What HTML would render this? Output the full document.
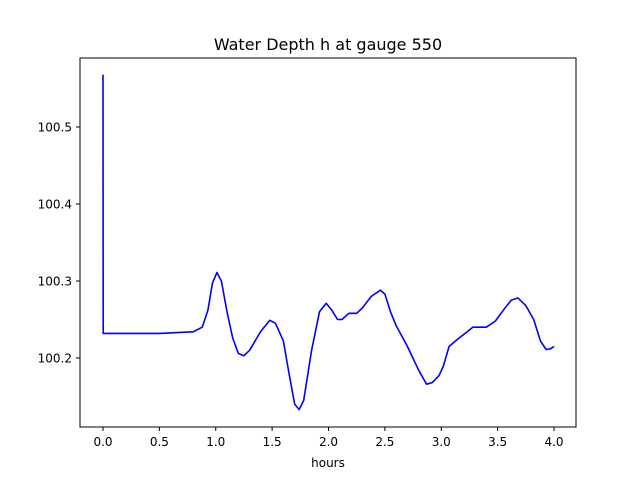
<!DOCTYPE html>
<html><head><meta charset="utf-8"><style>
body{margin:0;background:#fff;}
svg text{font-family:"DejaVu Sans","Liberation Sans",sans-serif;}
</style></head><body>
<svg id="chart" width="640" height="480" viewBox="0 0 640 480" xmlns="http://www.w3.org/2000/svg">
<rect width="640" height="480" fill="#fff"/>
<text x="328" y="50" font-size="16" text-anchor="middle">Water Depth h at gauge 550</text>
<g id="plot"></g>
<rect x="80" y="58" width="496" height="369" fill="none" stroke="#000" stroke-width="1"/>
<text x="328" y="467" font-size="12" text-anchor="middle">hours</text>
</svg>
<script>
const hours=[0,0.002,0.5,0.8,0.88,0.93,0.97,1.01,1.05,1.1,1.15,1.2,1.25,1.3,1.4,1.48,1.53,1.6,1.65,1.7,1.74,1.78,1.85,1.92,1.98,2.03,2.08,2.12,2.18,2.25,2.3,2.38,2.46,2.5,2.55,2.6,2.7,2.8,2.87,2.92,2.98,3.02,3.07,3.15,3.22,3.28,3.4,3.48,3.55,3.62,3.68,3.75,3.82,3.88,3.93,3.97,4.0];
const depth=[100.568,100.232,100.232,100.234,100.24,100.262,100.297,100.311,100.3,100.26,100.226,100.206,100.203,100.21,100.235,100.249,100.245,100.222,100.18,100.14,100.133,100.145,100.21,100.26,100.271,100.262,100.25,100.25,100.258,100.258,100.265,100.28,100.288,100.283,100.26,100.242,100.215,100.184,100.166,100.168,100.177,100.19,100.215,100.225,100.233,100.24,100.24,100.248,100.262,100.275,100.278,100.268,100.25,100.222,100.211,100.212,100.215];
const xTicks=[0,0.5,1,1.5,2,2.5,3,3.5,4];
const xTickLabels=["0.0","0.5","1.0","1.5","2.0","2.5","3.0","3.5","4.0"];
const yTicks=[100.2,100.3,100.4,100.5];
const yTickLabels=["100.2","100.3","100.4","100.5"];
const NS="http://www.w3.org/2000/svg";
const xs=v=>103+v*112.75;
const ys=v=>358-(v-100.2)*770;
const g=document.getElementById('plot');
xTicks.forEach((t,i)=>{
 const l=document.createElementNS(NS,'line');
 l.setAttribute('x1',xs(t));l.setAttribute('x2',xs(t));l.setAttribute('y1',427);l.setAttribute('y2',431);l.setAttribute('stroke','#000');
 
 
 g.appendChild(l);
 const tx=document.createElementNS(NS,'text');
 tx.setAttribute('x',xs(t));tx.setAttribute('y',446);tx.setAttribute('font-size','12');tx.setAttribute('text-anchor','middle');
 tx.textContent=xTickLabels[i];
 
 
 g.appendChild(tx);
});
yTicks.forEach((t,i)=>{
 const l=document.createElementNS(NS,'line');
 l.setAttribute('x1',76);l.setAttribute('x2',80);l.setAttribute('y1',ys(t));l.setAttribute('y2',ys(t));l.setAttribute('stroke','#000');
 
 
 g.appendChild(l);
 const tx=document.createElementNS(NS,'text');
 tx.setAttribute('x',72);tx.setAttribute('y',ys(t)+4.5);tx.setAttribute('font-size','12');tx.setAttribute('text-anchor','end');
 tx.textContent=yTickLabels[i];
 
 
 g.appendChild(tx);
});
const p=document.createElementNS(NS,'polyline');
p.setAttribute('points',hours.map((h,i)=>xs(h).toFixed(1)+','+ys(depth[i]).toFixed(1)).join(' '));
p.setAttribute('fill','none');p.setAttribute('stroke','#0000ff');p.setAttribute('stroke-width','1.6');p.setAttribute('stroke-linejoin','round');


g.appendChild(p);
</script>
</body></html>
